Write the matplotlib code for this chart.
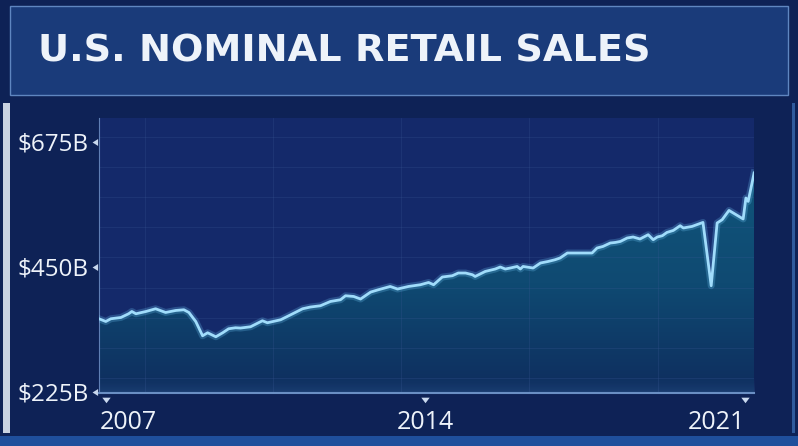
import matplotlib
matplotlib.use('Agg')
import matplotlib.pyplot as plt
import matplotlib.patches as patches
import matplotlib.transforms as mtrans
from matplotlib.path import Path
from matplotlib.markers import MarkerStyle
from matplotlib.ticker import FixedLocator
import numpy as np

TITLE = 'U.S. NOMINAL RETAIL SALES'

# decimal year, sales in $B
years = [2006.85, 2007.00, 2007.11, 2007.33, 2007.50, 2007.57, 2007.66, 2007.88,
         2008.09, 2008.31, 2008.53, 2008.71, 2008.82, 2008.97, 2009.12, 2009.23,
         2009.41, 2009.56, 2009.69, 2009.84, 2009.95, 2010.17, 2010.43, 2010.54,
         2010.83, 2011.05, 2011.31, 2011.48, 2011.70, 2011.92, 2012.14, 2012.25,
         2012.43, 2012.58, 2012.80, 2012.97, 2013.23, 2013.39, 2013.63, 2013.89,
         2014.07, 2014.18, 2014.37, 2014.59, 2014.72, 2014.88, 2015.03, 2015.09,
         2015.31, 2015.53, 2015.64, 2015.75, 2015.86, 2016.01, 2016.08, 2016.14,
         2016.36, 2016.52, 2016.69, 2016.84, 2016.95, 2017.11, 2017.39, 2017.65,
         2017.76, 2017.89, 2018.05, 2018.16, 2018.27, 2018.42, 2018.55, 2018.70,
         2018.88, 2018.99, 2019.08, 2019.19, 2019.29, 2019.43, 2019.58, 2019.65,
         2019.84, 2020.08, 2020.26, 2020.39, 2020.50, 2020.65, 2020.96, 2021.02,
         2021.07, 2021.20]
sales = [356.4, 351.5, 356.4, 358.7, 365.4, 369.5, 365.4, 369.5,
         374.4, 367.7, 371.3, 372.6, 367.7, 351.5, 325.8, 331.2,
         324.0, 331.2, 338.4, 340.2, 339.7, 342.0, 352.8, 349.2,
         354.6, 363.6, 374.4, 377.5, 379.8, 387.5, 390.6, 397.8,
         396.5, 391.9, 404.4, 408.6, 414.5, 409.9, 414.5, 417.6,
         421.7, 417.6, 431.5, 433.8, 438.7, 438.7, 435.6, 432.5,
         441.5, 445.9, 449.5, 445.9, 447.7, 450.5, 445.9, 450.5,
         447.7, 456.7, 459.5, 462.6, 465.7, 474.7, 474.7, 474.7,
         483.7, 486.5, 492.7, 493.7, 495.5, 501.7, 503.5, 499.9,
         507.6, 498.6, 503.5, 505.8, 511.7, 515.3, 523.8, 519.7,
         522.5, 529.7, 415.8, 528.7, 534.6, 551.3, 535.9, 573.7,
         567.5, 618.7]

y_ticks = [225, 450, 675]
y_labels = ['$225B', '$450B', '$675B']
x_ticks = [2007, 2014, 2021]
x_labels = ['2007', '2014', '2021']

BG = '#0e2256'
TXT = '#eef3fa'

fig = plt.figure(figsize=(7.98, 4.46), dpi=100, facecolor=BG)

# title banner and frame bits
fig.patches.append(patches.Rectangle((0.012, 0.787), 0.975, 0.2, transform=fig.transFigure,
                                     facecolor='#1a3b7a', edgecolor='#5f86c0', linewidth=1.0))
fig.patches.append(patches.Rectangle((0.0, 0.0), 1.0, 0.022, transform=fig.transFigure,
                                     facecolor='#1f4f9c', edgecolor='none'))
fig.patches.append(patches.Rectangle((0.004, 0.03), 0.008, 0.74, transform=fig.transFigure,
                                     facecolor='#c9d3e2', edgecolor='none'))
fig.patches.append(patches.Rectangle((0.992, 0.03), 0.004, 0.74, transform=fig.transFigure,
                                     facecolor='#2f5a9c', edgecolor='none'))
fig.text(0.047, 0.884, TITLE, color=TXT, fontsize=27.5, fontweight='bold',
         family='DejaVu Sans', va='center', ha='left')

ax = fig.add_axes([0.124, 0.119, 0.821, 0.617])
ax.set_facecolor('#14296a')
ax.set_xlim(2006.85, 2021.2)
ax.set_ylim(223, 718)

# gradient fill under the line
x = np.array(years)
y = np.array(sales)
grad = np.linspace(0, 1, 256).reshape(-1, 1)
cmap = matplotlib.colors.LinearSegmentedColormap.from_list('f', ['#0e2d5e', '#0f4a72', '#10557b'])
img = ax.imshow(grad, cmap=cmap, aspect='auto', origin='lower',
                extent=[x[0], x[-1], 223, y.max()], zorder=1)
verts = np.vstack([[x[0], 223], np.column_stack([x, y]), [x[-1], 223]])
clip = patches.PathPatch(Path(verts), transform=ax.transData, facecolor='none', edgecolor='none')
ax.add_patch(clip)
img.set_clip_path(clip)

# soft glow along the bottom of the plot
glow = np.zeros((64, 1, 4))
glow[..., :3] = matplotlib.colors.to_rgb('#4f86c8')
glow[:, 0, 3] = np.linspace(0.45, 0, 64) ** 2
ax.imshow(glow, aspect='auto', origin='lower', extent=[0, 1, 0, 0.07],
          transform=ax.transAxes, zorder=2)

# glow + line
ax.plot(x, y, color='#6fc6f5', linewidth=5, alpha=0.25, zorder=3, solid_joinstyle='round')
ax.plot(x, y, color='#a0dcfb', linewidth=2, zorder=4, solid_joinstyle='round')

# faint background grid
ax.yaxis.set_minor_locator(FixedLocator(np.arange(250, 700, 54.2)))
ax.xaxis.set_minor_locator(FixedLocator(np.arange(2007.85, 2021, 2.81)))
ax.grid(which='minor', color='#3a5894', linewidth=0.6, alpha=0.3)
ax.tick_params(which='minor', length=0)

ax.set_yticks(y_ticks)
ax.set_yticklabels(y_labels)
ax.set_xticks(x_ticks)
ax.set_xticklabels(x_labels)
ax.tick_params(axis='y', colors=TXT, labelsize=17.5, pad=4)
ax.tick_params(axis='x', colors=TXT, labelsize=18, pad=9)
for t in ax.get_yticklabels() + ax.get_xticklabels():
    t.set_family('Open Sans')
xl = ax.get_xticklabels()
xl[0].set_ha('left')
xl[0].set_transform(xl[0].get_transform() + mtrans.ScaledTranslation(-0.06, 0, fig.dpi_scale_trans))
xl[-1].set_ha('right')

# caret tick marks sitting outside the spines
down = MarkerStyle(Path([(-0.43, -0.43), (0.43, -0.43), (0, -1), (-0.43, -0.43)]))
left = MarkerStyle(Path([(-0.2, 0.5), (-0.2, -0.5), (-1, 0), (-0.2, 0.5)]))
for line in ax.yaxis.get_ticklines():
    line.set_marker(left)
    line.set_markersize(10)
    line.set_markerfacecolor('#c9d8ee')
    line.set_markeredgewidth(0)
for line in ax.xaxis.get_ticklines():
    line.set_marker(down)
    line.set_markersize(14)
    line.set_markerfacecolor('#c9d8ee')
    line.set_markeredgewidth(0)

for s in ['top', 'right']:
    ax.spines[s].set_visible(False)
ax.spines['left'].set_color('#5f7fb5')
ax.spines['bottom'].set_color('#6a8fc4')
ax.spines['bottom'].set_linewidth(1.5)

fig.savefig('out.png', dpi=100, facecolor=BG)
